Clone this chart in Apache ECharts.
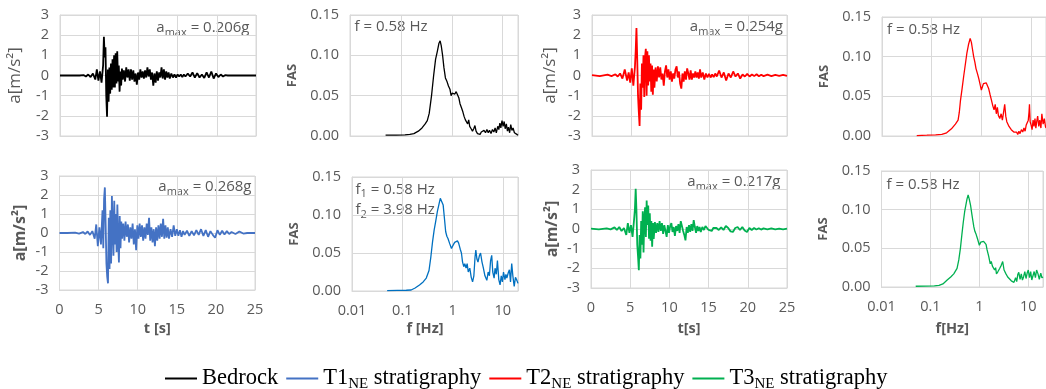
<!DOCTYPE html>
<html><head><meta charset="utf-8">
<script src="https://cdn.jsdelivr.net/npm/echarts@6/dist/echarts.min.js"></script>
<style>html,body{margin:0;padding:0;background:#fff}#c{width:1046px;height:389px}</style>
</head><body><div id="c"></div><script>
// ---------- DATA ----------
const timeS = [
  0, 1, 2, 2.5, 3, 3.3, 3.6, 3.9, 4.2, 4.5,
  4.7, 4.9, 5.1, 5.3, 5.5,
  5.6, 5.7, 5.8, 5.9, 6.0, 6.1, 6.2, 6.3, 6.4, 6.5, 6.6, 6.7, 6.8, 6.9, 7.0, 7.1, 7.2, 7.3, 7.4, 7.5, 7.6, 7.7, 7.8, 7.9, 8.0,
  8.15, 8.3, 8.45, 8.6, 8.75, 8.9, 9.05, 9.2, 9.35, 9.5,
  9.65, 9.8, 9.95, 10.1, 10.25, 10.4, 10.55, 10.7, 10.85, 11.0,
  11.15, 11.3, 11.45, 11.6, 11.75, 11.9, 12.05, 12.2, 12.35, 12.5,
  12.65, 12.8, 12.95, 13.1, 13.25, 13.4, 13.55, 13.7, 13.85, 14.0,
  14.2, 14.4, 14.6, 14.8, 15.0, 15.2, 15.4, 15.6, 15.8, 16.0,
  16.3, 16.6, 16.9, 17.2, 17.5, 17.8, 18.1, 18.4, 18.7, 19.0,
  19.3, 19.6, 19.9, 20.2, 20.5, 20.8, 21.1, 21.4, 21.7, 22.0,
  22.5, 23, 23.5, 24, 24.5, 25
];
const accBedrock = [
  0, 0, 0, 0, 0.02, -0.05, 0.05, -0.08, 0.1, -0.2,
  0.3, -0.25, 0.2, -0.35, 0.5,
  1.92, 0.9, 1.4, -1.0, -2.05, 0.3, -1.3, 0.4, -0.9, 0.6, -0.7, 0.8, -0.6, 1.0, -0.6, 1.1, -0.4, 1.2, -0.3, 0.5, -0.8, 0.2, -0.5, 0.35, -0.2,
  0.25, -0.3, 0.4, -0.1, 0.3, -0.25, 0.3, -0.2, 0.25, -0.3,
  0.1, -0.45, 0.15, -0.2, 0.3, -0.1, 0.2, -0.15, 0.25, -0.1,
  0.4, -0.05, 0.3, -0.2, 0.15, -0.5, 0.1, -0.35, 0.2, -0.25,
  0.15, -0.1, 0.4, -0.15, 0.3, -0.2, 0.2, -0.1, 0.15, -0.15,
  0.1, -0.1, 0.05, -0.1, 0.05, -0.05, 0.05, -0.08, 0.05, -0.05,
  0.1, -0.05, 0.15, -0.1, 0.12, -0.1, 0.05, -0.12, 0.15, -0.1,
  0.2, -0.15, 0.1, -0.08, 0.05, -0.05, 0.02, 0, 0, 0,
  0, 0, 0, 0, 0, 0
];
const accT1 = [
  0, 0, 0.02, -0.03, 0.05, -0.05, 0.08, -0.1, 0.1, -0.3,
  0.45, -0.7, 0.3, -0.6, 1.2,
  -0.8, 1.8, 2.4, 0.5, -1.6, -2.3, -2.65, 0.8, -1.9, 1.2, -1.6, 1.95, 0.3, -1.2, 1.7, -0.6, 1.0, -1.0, 1.5, -0.4, -1.55, 0.9, -0.8, 0.6, -0.3,
  0.5, -0.4, 0.6, -0.2, 0.45, -0.5, 0.3, -0.3, 0.5, -0.6,
  0.2, -0.9, 0.4, -0.3, 0.5, -0.2, 0.4, -0.4, 0.3, -0.3,
  0.5, -0.1, 0.8, -0.4, 0.3, -0.5, 0.2, -0.7, 0.3, -0.4,
  0.4, -0.3, 0.5, -0.2, 0.75, -0.3, 0.4, -0.25, 0.3, -0.3,
  0.2, -0.2, 0.4, -0.15, 0.2, -0.15, 0.15, -0.2, 0.1, -0.1,
  0.12, -0.15, 0.1, -0.12, 0.15, -0.1, 0.2, -0.15, 0.15, -0.2,
  0.1, -0.1, -0.25, 0.15, -0.1, 0.12, -0.08, 0.1, -0.05, 0.05,
  -0.05, 0.08, -0.03, 0, 0, 0
];
const accT2 = [
  0.02, -0.03, 0.04, -0.03, 0.06, -0.05, 0.1, -0.15, 0.3, -0.25,
  0.15, -0.35, 0.35, -0.5, 0.4,
  1.2, 2.36, 0.8, -1.0, -1.8, -2.5, -0.4, -1.7, 0.6, -0.6, 1.0, -1.07, 0.9, 1.32, -1.0, 1.2, -0.5, 1.0, -0.3, 0.6, -0.8, 0.5, -0.95, 0.3, -0.6,
  0.4, -0.3, 0.45, -0.1, 0.4, -0.2, 0.1, -0.5, 0.2, 0.5,
  -0.1, 0.3, -0.2, 0.2, -0.3, 0.1, -0.15, 0.3, 0.45, -0.1,
  0.2, -0.4, -0.65, 0.1, -0.3, 0.2, -0.2, 0.35, 0.1, -0.2,
  0.25, -0.2, 0.1, -0.1, 0.2, -0.1, 0.15, -0.15, 0.3, -0.1,
  0.15, -0.2, 0.1, -0.1, 0.08, -0.1, 0.05, -0.08, 0.1, -0.05,
  0.25, -0.1, 0.15, -0.25, 0.1, -0.1, 0.2, -0.05, 0.1, -0.15,
  0.05, -0.05, 0.08, -0.05, 0.05, -0.03, 0.06, -0.04, 0.04, -0.03,
  0.04, -0.03, 0.03, -0.02, 0.03, -0.02
];
const accT3 = [
  0.02, -0.02, 0.03, -0.02, 0.08, -0.05, 0.1, -0.1, 0.05, -0.3,
  0.3, -0.2, 0.2, -0.4, 0.5,
  1.0, 2.05, 0.9, -0.8, -1.4, -2.1, -0.3, -1.5, 0.4, -0.8, 0.9, -1.2, 0.5, 1.1, -0.4, 1.45, 0.2, 1.2, -0.5, 0.8, -0.6, 0.4, -0.9, 0.3, -0.5,
  0.35, -0.2, 0.3, -0.15, 0.4, -0.1, 0.3, -0.25, 0.2, -0.1,
  -0.4, 0.2, -0.2, 0.15, 0.3, -0.15, 0.1, -0.35, 0.15, -0.1,
  0.25, -0.2, 0.4, 0.5, -0.1, -0.3, -0.58, 0.1, -0.2, 0.2,
  -0.15, 0.25, -0.1, 0.45, 0.1, -0.2, 0.15, -0.1, 0.1, -0.15,
  0.1, -0.05, 0.15, 0.2, -0.05, 0.05, -0.1, 0.05, -0.05, 0.05,
  -0.05, 0.08, -0.05, 0.15, 0.05, -0.12, -0.15, 0.05, 0.1, -0.05,
  0.1, -0.08, -0.15, 0.05, -0.05, 0.05, -0.03, 0.04, -0.03, 0.03,
  -0.02, 0.03, -0.02, 0.02, -0.02, 0.02
];
// Fourier amplitude spectra: [frequency Hz, FAS]
const fasBedrock = [[0.05,0.001],[0.08,0.001],[0.12,0.0015],[0.15,0.002],[0.18,0.003],[0.22,0.006],[0.26,0.01],[0.3,0.015],[0.33,0.019],[0.36,0.028],[0.4,0.05],[0.44,0.075],[0.48,0.095],[0.52,0.105],[0.56,0.115],[0.59,0.118],[0.62,0.112],[0.66,0.1],[0.7,0.085],[0.75,0.072],[0.8,0.068],[0.86,0.062],[0.92,0.058],[0.97,0.05],[1.02,0.053],[1.08,0.055],[1.15,0.052],[1.22,0.055],[1.3,0.053],[1.38,0.047],[1.45,0.04],[1.55,0.035],[1.65,0.03],[1.75,0.024],[1.85,0.02],[1.95,0.022],[2.05,0.015],[2.15,0.02],[2.25,0.012],[2.4,0.009],[2.55,0.006],[2.7,0.009],[2.85,0.013],[3.0,0.006],[3.2,0.003],[3.4,0.001],[3.6,0.002],[3.8,0.005],[4.0,0.003],[4.3,0.007],[4.6,0.004],[4.9,0.008],[5.2,0.004],[5.5,0.007],[5.9,0.003],[6.3,0.008],[6.7,0.005],[7.1,0.01],[7.5,0.004],[8.0,0.012],[8.4,0.008],[8.8,0.016],[9.2,0.01],[9.7,0.019],[10.2,0.012],[10.7,0.018],[11.2,0.009],[11.8,0.015],[12.4,0.006],[13.0,0.011],[13.7,0.004],[14.4,0.014],[15.2,0.007],[16.0,0.01],[17.0,0.004],[18.0,0.006],[19.0,0.002],[20,0.001]];
const fasT1 = [[0.05,0.0005],[0.08,0.0008],[0.12,0.001],[0.15,0.0013],[0.18,0.004],[0.22,0.008],[0.26,0.012],[0.3,0.017],[0.34,0.027],[0.37,0.045],[0.4,0.065],[0.43,0.08],[0.46,0.091],[0.5,0.105],[0.54,0.115],[0.57,0.122],[0.6,0.12],[0.65,0.113],[0.69,0.095],[0.73,0.078],[0.77,0.072],[0.81,0.069],[0.88,0.062],[0.95,0.056],[1.02,0.06],[1.1,0.064],[1.18,0.062],[1.25,0.066],[1.32,0.063],[1.42,0.055],[1.5,0.05],[1.58,0.038],[1.67,0.032],[1.75,0.036],[1.85,0.03],[1.95,0.036],[2.05,0.025],[2.2,0.03],[2.35,0.018],[2.5,0.012],[2.65,0.02],[2.8,0.045],[2.9,0.054],[3.05,0.042],[3.2,0.038],[3.4,0.046],[3.6,0.05],[3.85,0.038],[4.1,0.03],[4.4,0.02],[4.8,0.014],[5.1,0.025],[5.4,0.02],[5.7,0.04],[6.0,0.047],[6.3,0.025],[6.7,0.017],[7.0,0.03],[7.4,0.022],[7.8,0.04],[8.3,0.015],[8.8,0.008],[9.3,0.02],[9.8,0.012],[10.3,0.025],[11.0,0.015],[11.5,0.022],[12.0,0.017],[12.8,0.024],[13.5,0.028],[14.2,0.012],[15.0,0.036],[15.8,0.02],[16.8,0.006],[17.8,0.018],[19.0,0.014],[20,0.01]];
const fasT2 = [[0.05,0.0005],[0.08,0.001],[0.12,0.0015],[0.16,0.002],[0.2,0.004],[0.25,0.009],[0.3,0.015],[0.34,0.02],[0.36,0.03],[0.38,0.045],[0.41,0.06],[0.44,0.075],[0.48,0.092],[0.51,0.104],[0.55,0.115],[0.595,0.123],[0.63,0.118],[0.66,0.11],[0.7,0.1],[0.74,0.093],[0.78,0.085],[0.84,0.078],[0.89,0.072],[0.95,0.064],[1.0,0.058],[1.05,0.062],[1.1,0.066],[1.17,0.068],[1.25,0.067],[1.33,0.068],[1.4,0.06],[1.5,0.052],[1.6,0.045],[1.7,0.038],[1.8,0.033],[1.9,0.04],[2.0,0.028],[2.1,0.036],[2.2,0.026],[2.35,0.022],[2.5,0.028],[2.65,0.02],[2.8,0.03],[2.95,0.04],[3.1,0.025],[3.25,0.018],[3.4,0.016],[3.6,0.012],[3.8,0.01],[4.0,0.008],[4.25,0.007],[4.5,0.005],[4.8,0.003],[5.1,0.005],[5.4,0.002],[5.7,0.006],[6.0,0.003],[6.4,0.008],[6.8,0.005],[7.2,0.01],[7.6,0.006],[8.0,0.014],[8.4,0.012],[8.8,0.02],[9.1,0.03],[9.3,0.04],[9.6,0.018],[10.0,0.014],[10.5,0.008],[11.0,0.02],[11.5,0.012],[12.0,0.022],[12.5,0.01],[13.0,0.018],[13.6,0.025],[14.3,0.012],[15.0,0.02],[15.8,0.01],[16.5,0.028],[17.5,0.015],[18.5,0.022],[19.5,0.012],[20,0.01]];
const fasT3 = [[0.05,0.001],[0.08,0.0012],[0.12,0.0015],[0.15,0.002],[0.18,0.004],[0.22,0.009],[0.26,0.013],[0.3,0.017],[0.35,0.024],[0.38,0.035],[0.41,0.05],[0.44,0.068],[0.47,0.084],[0.5,0.097],[0.53,0.106],[0.56,0.114],[0.59,0.119],[0.62,0.114],[0.66,0.106],[0.7,0.095],[0.74,0.085],[0.77,0.078],[0.81,0.072],[0.85,0.069],[0.92,0.062],[1.0,0.054],[1.07,0.058],[1.15,0.06],[1.22,0.059],[1.3,0.06],[1.37,0.055],[1.44,0.048],[1.55,0.04],[1.67,0.03],[1.75,0.033],[1.85,0.027],[1.94,0.028],[2.05,0.022],[2.15,0.025],[2.24,0.017],[2.4,0.02],[2.6,0.024],[2.8,0.028],[3.0,0.033],[3.2,0.022],[3.5,0.017],[3.8,0.013],[4.1,0.011],[4.5,0.008],[5.1,0.006],[5.5,0.012],[5.8,0.007],[6.1,0.016],[6.4,0.019],[6.8,0.01],[7.2,0.017],[7.6,0.009],[8.0,0.013],[8.5,0.02],[9.0,0.011],[9.5,0.018],[10.0,0.022],[10.6,0.012],[11.2,0.02],[11.8,0.009],[12.5,0.011],[13.2,0.02],[14.0,0.012],[14.8,0.022],[15.8,0.017],[16.8,0.01],[18.0,0.018],[19.0,0.012],[20,0.013]];
const accTicks = [-3, 3, 1];        // min, max, interval
const fasTicks = [0, 0.15, 0.05];
const timeRange = [0, 25, 5];
const freqRange = [0.01, 20];
const amaxText = ['0.206g', '0.254g', '0.268g', '0.217g'];
const seriesNames = ['Bedrock', 'T1NE stratigraphy', 'T2NE stratigraphy', 'T3NE stratigraphy'];

// ---------- STYLE / LAYOUT ----------
const FONT = '"Open Sans", sans-serif';
const SERIF = '"Liberation Serif", "Times New Roman", serif';
const GRAY = '#595959';
const GRIDC = '#d9d9d9';
const COL = { bed: '#000000', t1: '#4472C4', t1f: '#0070C0', t2: '#FF0000', t3: '#00B050' };

const grids = [
  { left: 60,    top: 15,  width: 196,   height: 121 }, // 0 acc bedrock
  { left: 350,   top: 15,  width: 168,   height: 121 }, // 1 fas bedrock
  { left: 592,   top: 15,  width: 195,   height: 121 }, // 2 acc T2
  { left: 882,   top: 17,  width: 169,   height: 119 }, // 3 fas T2
  { left: 59.5,  top: 176, width: 195.5, height: 114 }, // 4 acc T1
  { left: 352,   top: 177, width: 166,   height: 114 }, // 5 fas T1
  { left: 591,   top: 170, width: 196,   height: 118 }, // 6 acc T3
  { left: 881.5, top: 171, width: 169,   height: 116 }  // 7 fas T3
];
const panels = [
  { kind: 'acc', data: accBedrock, name: seriesNames[0], color: COL.bed, bottom: false, yGap: 36, yBold: false },
  { kind: 'fas', data: fasBedrock, name: seriesNames[0], color: COL.bed, bottom: false, yGap: 51 },
  { kind: 'acc', data: accT2, name: seriesNames[2], color: COL.t2, bottom: false, yGap: 33, yBold: false },
  { kind: 'fas', data: fasT2, name: seriesNames[2], color: COL.t2, bottom: false, yGap: 51 },
  { kind: 'acc', data: accT1, name: seriesNames[1], color: COL.t1, bottom: true, yGap: 31, yBold: true, xName: 't [s]', xGap: 31 },
  { kind: 'fas', data: fasT1, name: seriesNames[1], color: COL.t1f, bottom: true, yGap: 51, xName: 'f [Hz]', xGap: 30, xShift: -10 },
  { kind: 'acc', data: accT3, name: seriesNames[3], color: COL.t3, bottom: true, yGap: 31, yBold: true, xName: 't[s]', xGap: 33 },
  { kind: 'fas', data: fasT3, name: seriesNames[3], color: COL.t3, bottom: true, yGap: 52, xName: 'f[Hz]', xGap: 34, xShift: -10 }
];

function logLabel(v) {
  const l = Math.log10(v), p = Math.round(l);
  if (Math.abs(l - p) > 1e-6) return '';
  return p < 0 ? v.toFixed(-p) : String(Math.round(v));
}

const xAxes = [], yAxes = [], series = [];
panels.forEach((p, i) => {
  const common = {
    gridIndex: i,
    axisLine: { show: true, onZero: false, lineStyle: { color: GRIDC, width: 1 } },
    axisTick: { show: false },
    splitLine: { show: true, lineStyle: { color: GRIDC, width: 1 } },
    axisLabel: { color: GRAY, fontFamily: FONT, fontSize: 14.5, margin: 11 }
  };
  const xNameStyle = { color: GRAY, fontFamily: FONT, fontWeight: 'bold', fontSize: 14.5,
                       padding: [0, 0, 0, p.xShift ? 2 * p.xShift : 0] };
  if (p.kind === 'acc') {
    xAxes.push(Object.assign({}, common, {
      type: 'value', min: timeRange[0], max: timeRange[1], interval: timeRange[2],
      axisLabel: Object.assign({}, common.axisLabel, { show: p.bottom, margin: 12 }),
      name: p.xName || '', nameLocation: 'middle', nameGap: p.xGap || 30, nameTextStyle: xNameStyle
    }));
    yAxes.push(Object.assign({}, common, {
      type: 'value', min: accTicks[0], max: accTicks[1], interval: accTicks[2],
      name: 'a[m/s²]', nameLocation: 'middle', nameRotate: 90, nameGap: p.yGap,
      nameTextStyle: { color: GRAY, fontFamily: FONT, fontWeight: p.yBold ? 'bold' : 'normal', fontSize: p.yBold ? 16 : 17 }
    }));
    series.push({
      type: 'line', name: p.name, xAxisIndex: i, yAxisIndex: i,
      data: timeS.map((t, k) => [t, p.data[k]]),
      showSymbol: false, clip: true, silent: true,
      lineStyle: { color: p.color, width: 1.8 }, itemStyle: { color: p.color }
    });
  } else {
    xAxes.push(Object.assign({}, common, {
      type: 'log', logBase: 10, min: freqRange[0], max: freqRange[1],
      axisLabel: Object.assign({}, common.axisLabel, { show: p.bottom, formatter: logLabel, margin: 12 }),
      minorTick: { show: false }, minorSplitLine: { show: false },
      name: p.xName || '', nameLocation: 'middle', nameGap: p.xGap || 30, nameTextStyle: xNameStyle
    }));
    yAxes.push(Object.assign({}, common, {
      type: 'value', min: fasTicks[0], max: fasTicks[1], interval: fasTicks[2],
      axisLabel: Object.assign({}, common.axisLabel, { formatter: v => v.toFixed(2) }),
      name: 'FAS', nameLocation: 'middle', nameRotate: 90, nameGap: p.yGap,
      nameTextStyle: { color: GRAY, fontFamily: FONT, fontWeight: 'bold', fontSize: 13 }
    }));
    series.push({
      type: 'line', name: p.name, xAxisIndex: i, yAxisIndex: i,
      data: p.data, showSymbol: false, clip: true, silent: true,
      lineStyle: { color: p.color, width: 1.3 }, itemStyle: { color: p.color }
    });
  }
});

// annotations inside the plots
const annRich = {
  a: { fontFamily: FONT, fontSize: 15, fill: GRAY, lineHeight: 20 },
  s: { fontFamily: FONT, fontSize: 11, fill: GRAY, verticalAlign: 'bottom', lineHeight: 14 }
};
function ann(gi, text, align, dx, dy) {
  const g = grids[gi];
  return {
    type: 'text', silent: true,
    x: align === 'right' ? g.left + g.width - dx : g.left + dx,
    y: g.top + dy,
    style: { text: text, rich: annRich, align: align, verticalAlign: 'middle', fill: GRAY, fontFamily: FONT, fontSize: 15 }
  };
}
const graphic = [
  ann(0, '{a|a}{s|max}{a| = ' + amaxText[0] + '}', 'right', 6.5, 13),
  ann(2, '{a|a}{s|max}{a| = ' + amaxText[1] + '}', 'right', 4, 12),
  ann(4, '{a|a}{s|max}{a| = ' + amaxText[2] + '}', 'right', 3.5, 11),
  ann(6, '{a|a}{s|max}{a| = ' + amaxText[3] + '}', 'right', 6.5, 12),
  ann(1, '{a|f = 0.58 Hz}', 'left', 4.5, 12),
  ann(3, '{a|f = 0.58 Hz}', 'left', 5, 13),
  ann(5, '{a|f}{s|1}{a| = 0.58 Hz}', 'left', 3.5, 12.5),
  ann(5, '{a|f}{s|2}{a| = 3.98 Hz}', 'left', 3.5, 33),
  ann(7, '{a|f = 0.58 Hz}', 'left', 5, 14)
];

const legendText = {
  'Bedrock': '{m|Bedrock}',
  'T1NE stratigraphy': '{m|T1}{s|NE}{m| stratigraphy}{g|}',
  'T2NE stratigraphy': '{m|T2}{s|NE}{m| stratigraphy}',
  'T3NE stratigraphy': '{m|T3}{s|NE}{m| stratigraphy}'
};

const chart = echarts.init(document.getElementById('c'), null, { renderer: 'canvas' });
chart.setOption({
  animation: false,
  backgroundColor: '#fff',
  textStyle: { fontFamily: FONT },
  grid: grids.map(g => Object.assign({ show: true, borderColor: GRIDC, borderWidth: 1, containLabel: false }, g)),
  xAxis: xAxes,
  yAxis: yAxes,
  series: series,
  graphic: graphic,
  legend: {
    left: 160, top: 362,
    data: seriesNames,
    icon: 'rect', itemWidth: 32, itemHeight: 2, itemGap: 8,
    selectedMode: false,
    formatter: n => legendText[n],
    textStyle: {
      color: '#000', fontFamily: SERIF, fontSize: 22.5,
      rich: {
        m: { fontFamily: SERIF, fontSize: 22.5, color: '#000', lineHeight: 26 },
        s: { fontFamily: SERIF, fontSize: 15, color: '#000', verticalAlign: 'bottom', lineHeight: 16 },
        g: { width: 14 }
      }
    }
  }
});
</script></body></html>
